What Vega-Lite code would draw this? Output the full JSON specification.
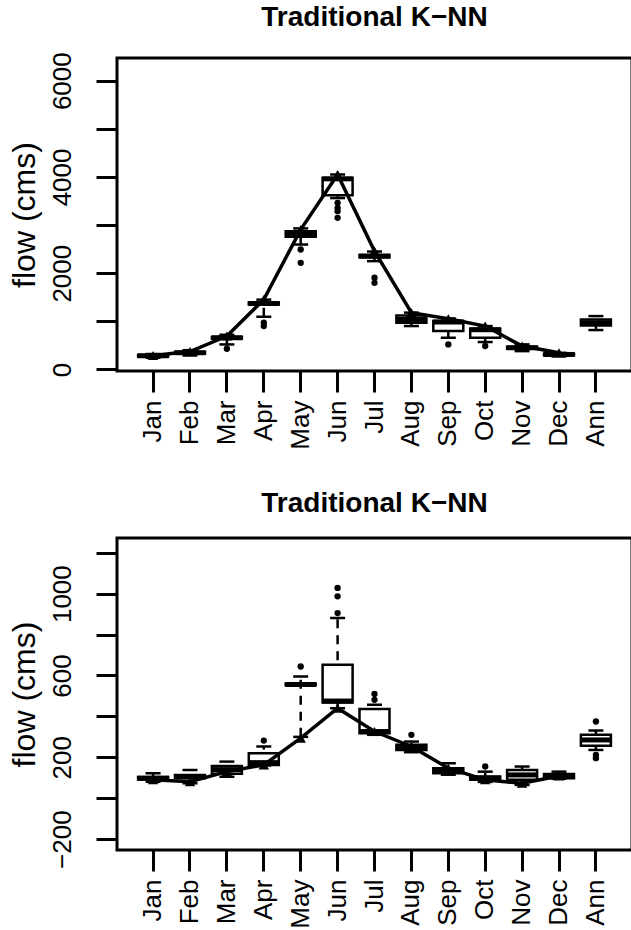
{
  "$schema": "https://vega.github.io/schema/vega-lite/v6.json",
  "background": "white",
  "padding": {"left": 6, "top": 2, "right": 0, "bottom": 0},
  "spacing": 37,
  "datasets": {
    "box1": [
      {"month": "Jan", "lo": 240, "q1": 270, "med": 285, "q3": 300, "hi": 320},
      {"month": "Feb", "lo": 290, "q1": 330, "med": 347, "q3": 360, "hi": 400},
      {"month": "Mar", "lo": 519, "q1": 640, "med": 658, "q3": 675, "hi": 720},
      {"month": "Apr", "lo": 1094, "q1": 1350, "med": 1370, "q3": 1390, "hi": 1450},
      {"month": "May", "lo": 2595, "q1": 2755, "med": 2803, "q3": 2873, "hi": 2930},
      {"month": "Jun", "lo": 3560, "q1": 3620, "med": 3960, "q3": 3980, "hi": 4050},
      {"month": "Jul", "lo": 2250, "q1": 2330, "med": 2354, "q3": 2380, "hi": 2450},
      {"month": "Aug", "lo": 901, "q1": 969, "med": 1038, "q3": 1121, "hi": 1180},
      {"month": "Sep", "lo": 658, "q1": 797, "med": 985, "q3": 1005, "hi": 1060},
      {"month": "Oct", "lo": 569, "q1": 658, "med": 825, "q3": 845, "hi": 900},
      {"month": "Nov", "lo": 380, "q1": 430, "med": 450, "q3": 470, "hi": 520},
      {"month": "Dec", "lo": 270, "q1": 295, "med": 311, "q3": 325, "hi": 345},
      {"month": "Ann", "lo": 818, "q1": 913, "med": 969, "q3": 1038, "hi": 1108}
    ],
    "out1": [
      {"month": "Mar", "flow": 430},
      {"month": "Apr", "flow": 969},
      {"month": "Apr", "flow": 901},
      {"month": "May", "flow": 2491},
      {"month": "May", "flow": 2214},
      {"month": "Jun", "flow": 3461},
      {"month": "Jun", "flow": 3357},
      {"month": "Jun", "flow": 3288},
      {"month": "Jun", "flow": 3149},
      {"month": "Jul", "flow": 1904},
      {"month": "Jul", "flow": 1800},
      {"month": "Sep", "flow": 519},
      {"month": "Oct", "flow": 486}
    ],
    "obs1": [
      {"month": "Jan", "flow": 290},
      {"month": "Feb", "flow": 370},
      {"month": "Mar", "flow": 693},
      {"month": "Apr", "flow": 1453},
      {"month": "May", "flow": 2906},
      {"month": "Jun", "flow": 4048},
      {"month": "Jul", "flow": 2458},
      {"month": "Aug", "flow": 1177},
      {"month": "Sep", "flow": 1052},
      {"month": "Oct", "flow": 901},
      {"month": "Nov", "flow": 486},
      {"month": "Dec", "flow": 347}
    ],
    "box2": [
      {"month": "Jan", "lo": 80, "q1": 92, "med": 98, "q3": 104, "hi": 122},
      {"month": "Feb", "lo": 73, "q1": 98, "med": 106, "q3": 114, "hi": 138},
      {"month": "Mar", "lo": 105, "q1": 120, "med": 140, "q3": 158, "hi": 179},
      {"month": "Apr", "lo": 160, "q1": 163, "med": 174, "q3": 220, "hi": 253},
      {"month": "May", "lo": 300, "q1": 553, "med": 556, "q3": 560, "hi": 595},
      {"month": "Jun", "lo": 440, "q1": 468, "med": 475, "q3": 653, "hi": 881},
      {"month": "Jul", "lo": 310, "q1": 318, "med": 326, "q3": 436, "hi": 457},
      {"month": "Aug", "lo": 225, "q1": 236, "med": 245, "q3": 261, "hi": 277},
      {"month": "Sep", "lo": 115, "q1": 122, "med": 135, "q3": 147, "hi": 171},
      {"month": "Oct", "lo": 80, "q1": 90, "med": 98, "q3": 106, "hi": 130},
      {"month": "Nov", "lo": 65, "q1": 90, "med": 114, "q3": 138, "hi": 155},
      {"month": "Dec", "lo": 95, "q1": 98, "med": 109, "q3": 119, "hi": 130},
      {"month": "Ann", "lo": 236, "q1": 256, "med": 285, "q3": 310, "hi": 331}
    ],
    "out2": [
      {"month": "Apr", "flow": 282},
      {"month": "May", "flow": 644},
      {"month": "Jun", "flow": 905},
      {"month": "Jun", "flow": 987},
      {"month": "Jun", "flow": 1028},
      {"month": "Jul", "flow": 481},
      {"month": "Jul", "flow": 510},
      {"month": "Aug", "flow": 310},
      {"month": "Oct", "flow": 155},
      {"month": "Ann", "flow": 375},
      {"month": "Ann", "flow": 212},
      {"month": "Ann", "flow": 196}
    ],
    "obs2": [
      {"month": "Jan", "flow": 90},
      {"month": "Feb", "flow": 81},
      {"month": "Mar", "flow": 130},
      {"month": "Apr", "flow": 163},
      {"month": "May", "flow": 294},
      {"month": "Jun", "flow": 440},
      {"month": "Jul", "flow": 326},
      {"month": "Aug", "flow": 253},
      {"month": "Sep", "flow": 147},
      {"month": "Oct", "flow": 90},
      {"month": "Nov", "flow": 73},
      {"month": "Dec", "flow": 109}
    ]
  },
  "vconcat": [
    {
      "width": 515,
      "height": 313,
      "title": {"text": "Traditional K−NN"},
      "layer": [
        {
          "data": {"name": "box1"},
          "mark": {"type": "rule", "strokeDash": [9, 7], "strokeWidth": 2.5, "color": "black"},
          "encoding": {
            "x": {"field": "month", "type": "nominal", "title": null,
                  "scale": {"domain": ["Jan","Feb","Mar","Apr","May","Jun","Jul","Aug","Sep","Oct","Nov","Dec","Ann"], "paddingInner": 0, "paddingOuter": 0.478}},
            "y": {"field": "lo", "type": "quantitative", "title": "flow (cms)",
                  "scale": {"domain": [-33, 6471], "nice": false, "zero": false},
                  "axis": {"values": [0, 1000, 2000, 3000, 4000, 5000, 6000], "format": "d", "labelExpr": "datum.value % 2000 == 0 ? datum.label : ''"}},
            "y2": {"field": "hi"}
          }
        },
        {
          "data": {"name": "box1"},
          "mark": {"type": "bar", "width": 30, "fill": "white", "stroke": "black", "strokeWidth": 2.5},
          "encoding": {
            "x": {"field": "month", "type": "nominal"},
            "y": {"field": "q1", "type": "quantitative"},
            "y2": {"field": "q3"}
          }
        },
        {
          "data": {"name": "box1"},
          "mark": {"type": "tick", "size": 15, "thickness": 2.5, "color": "black", "opacity": 1},
          "encoding": {"x": {"field": "month", "type": "nominal"}, "y": {"field": "lo", "type": "quantitative"}}
        },
        {
          "data": {"name": "box1"},
          "mark": {"type": "tick", "size": 15, "thickness": 2.5, "color": "black", "opacity": 1},
          "encoding": {"x": {"field": "month", "type": "nominal"}, "y": {"field": "hi", "type": "quantitative"}}
        },
        {
          "data": {"name": "box1"},
          "mark": {"type": "tick", "size": 31, "thickness": 5, "color": "black", "opacity": 1},
          "encoding": {"x": {"field": "month", "type": "nominal"}, "y": {"field": "med", "type": "quantitative"}}
        },
        {
          "data": {"name": "out1"},
          "mark": {"type": "point", "shape": "circle", "filled": true, "size": 40, "color": "black", "opacity": 1},
          "encoding": {"x": {"field": "month", "type": "nominal"}, "y": {"field": "flow", "type": "quantitative"}}
        },
        {
          "data": {"name": "obs1"},
          "mark": {"type": "line", "color": "black", "strokeWidth": 3.5,
                   "point": {"shape": "triangle-up", "filled": true, "size": 110, "color": "black", "opacity": 1}},
          "encoding": {"x": {"field": "month", "type": "nominal", "sort": null}, "y": {"field": "flow", "type": "quantitative"}}
        }
      ]
    },
    {
      "width": 515,
      "height": 312,
      "title": {"text": "Traditional K−NN"},
      "layer": [
        {
          "data": {"name": "box2"},
          "mark": {"type": "rule", "strokeDash": [9, 7], "strokeWidth": 2.5, "color": "black"},
          "encoding": {
            "x": {"field": "month", "type": "nominal", "title": null,
                  "scale": {"domain": ["Jan","Feb","Mar","Apr","May","Jun","Jul","Aug","Sep","Oct","Nov","Dec","Ann"], "paddingInner": 0, "paddingOuter": 0.478}},
            "y": {"field": "lo", "type": "quantitative", "title": "flow (cms)",
                  "scale": {"domain": [-253, 1272], "nice": false, "zero": false},
                  "axis": {"values": [-200, 0, 200, 400, 600, 800, 1000, 1200], "format": "d", "labelExpr": "(datum.value + 200) % 400 == 0 ? datum.label : ''"}},
            "y2": {"field": "hi"}
          }
        },
        {
          "data": {"name": "box2"},
          "mark": {"type": "bar", "width": 30, "fill": "white", "stroke": "black", "strokeWidth": 2.5},
          "encoding": {
            "x": {"field": "month", "type": "nominal"},
            "y": {"field": "q1", "type": "quantitative"},
            "y2": {"field": "q3"}
          }
        },
        {
          "data": {"name": "box2"},
          "mark": {"type": "tick", "size": 15, "thickness": 2.5, "color": "black", "opacity": 1},
          "encoding": {"x": {"field": "month", "type": "nominal"}, "y": {"field": "lo", "type": "quantitative"}}
        },
        {
          "data": {"name": "box2"},
          "mark": {"type": "tick", "size": 15, "thickness": 2.5, "color": "black", "opacity": 1},
          "encoding": {"x": {"field": "month", "type": "nominal"}, "y": {"field": "hi", "type": "quantitative"}}
        },
        {
          "data": {"name": "box2"},
          "mark": {"type": "tick", "size": 31, "thickness": 5, "color": "black", "opacity": 1},
          "encoding": {"x": {"field": "month", "type": "nominal"}, "y": {"field": "med", "type": "quantitative"}}
        },
        {
          "data": {"name": "out2"},
          "mark": {"type": "point", "shape": "circle", "filled": true, "size": 40, "color": "black", "opacity": 1},
          "encoding": {"x": {"field": "month", "type": "nominal"}, "y": {"field": "flow", "type": "quantitative"}}
        },
        {
          "data": {"name": "obs2"},
          "mark": {"type": "line", "color": "black", "strokeWidth": 3.5,
                   "point": {"shape": "triangle-up", "filled": true, "size": 110, "color": "black", "opacity": 1}},
          "encoding": {"x": {"field": "month", "type": "nominal", "sort": null}, "y": {"field": "flow", "type": "quantitative"}}
        }
      ]
    }
  ],
  "config": {
    "view": {"stroke": "black", "strokeWidth": 3},
    "font": "Liberation Sans",
    "axis": {"domain": false, "grid": false, "tickColor": "black", "tickWidth": 3, "tickSize": 21,
             "labelColor": "black", "labelFont": "Liberation Sans", "titleFont": "Liberation Sans",
             "titleColor": "black", "titleFontWeight": "normal"},
    "axisX": {"labelAngle": -90, "labelAlign": "right", "labelBaseline": "middle", "labelFontSize": 26, "labelPadding": 8, "minExtent": 78, "maxExtent": 78},
    "axisY": {"labelAngle": -90, "labelAlign": "center", "labelBaseline": "bottom", "labelFontSize": 26, "labelPadding": 21,
              "titleFontSize": 32, "titlePadding": 10, "minExtent": 66, "maxExtent": 66},
    "title": {"fontSize": 28, "fontWeight": "bold", "font": "Liberation Sans", "color": "black", "anchor": "middle",
              "frame": "group", "baseline": "alphabetic", "offset": 20}
  }
}
